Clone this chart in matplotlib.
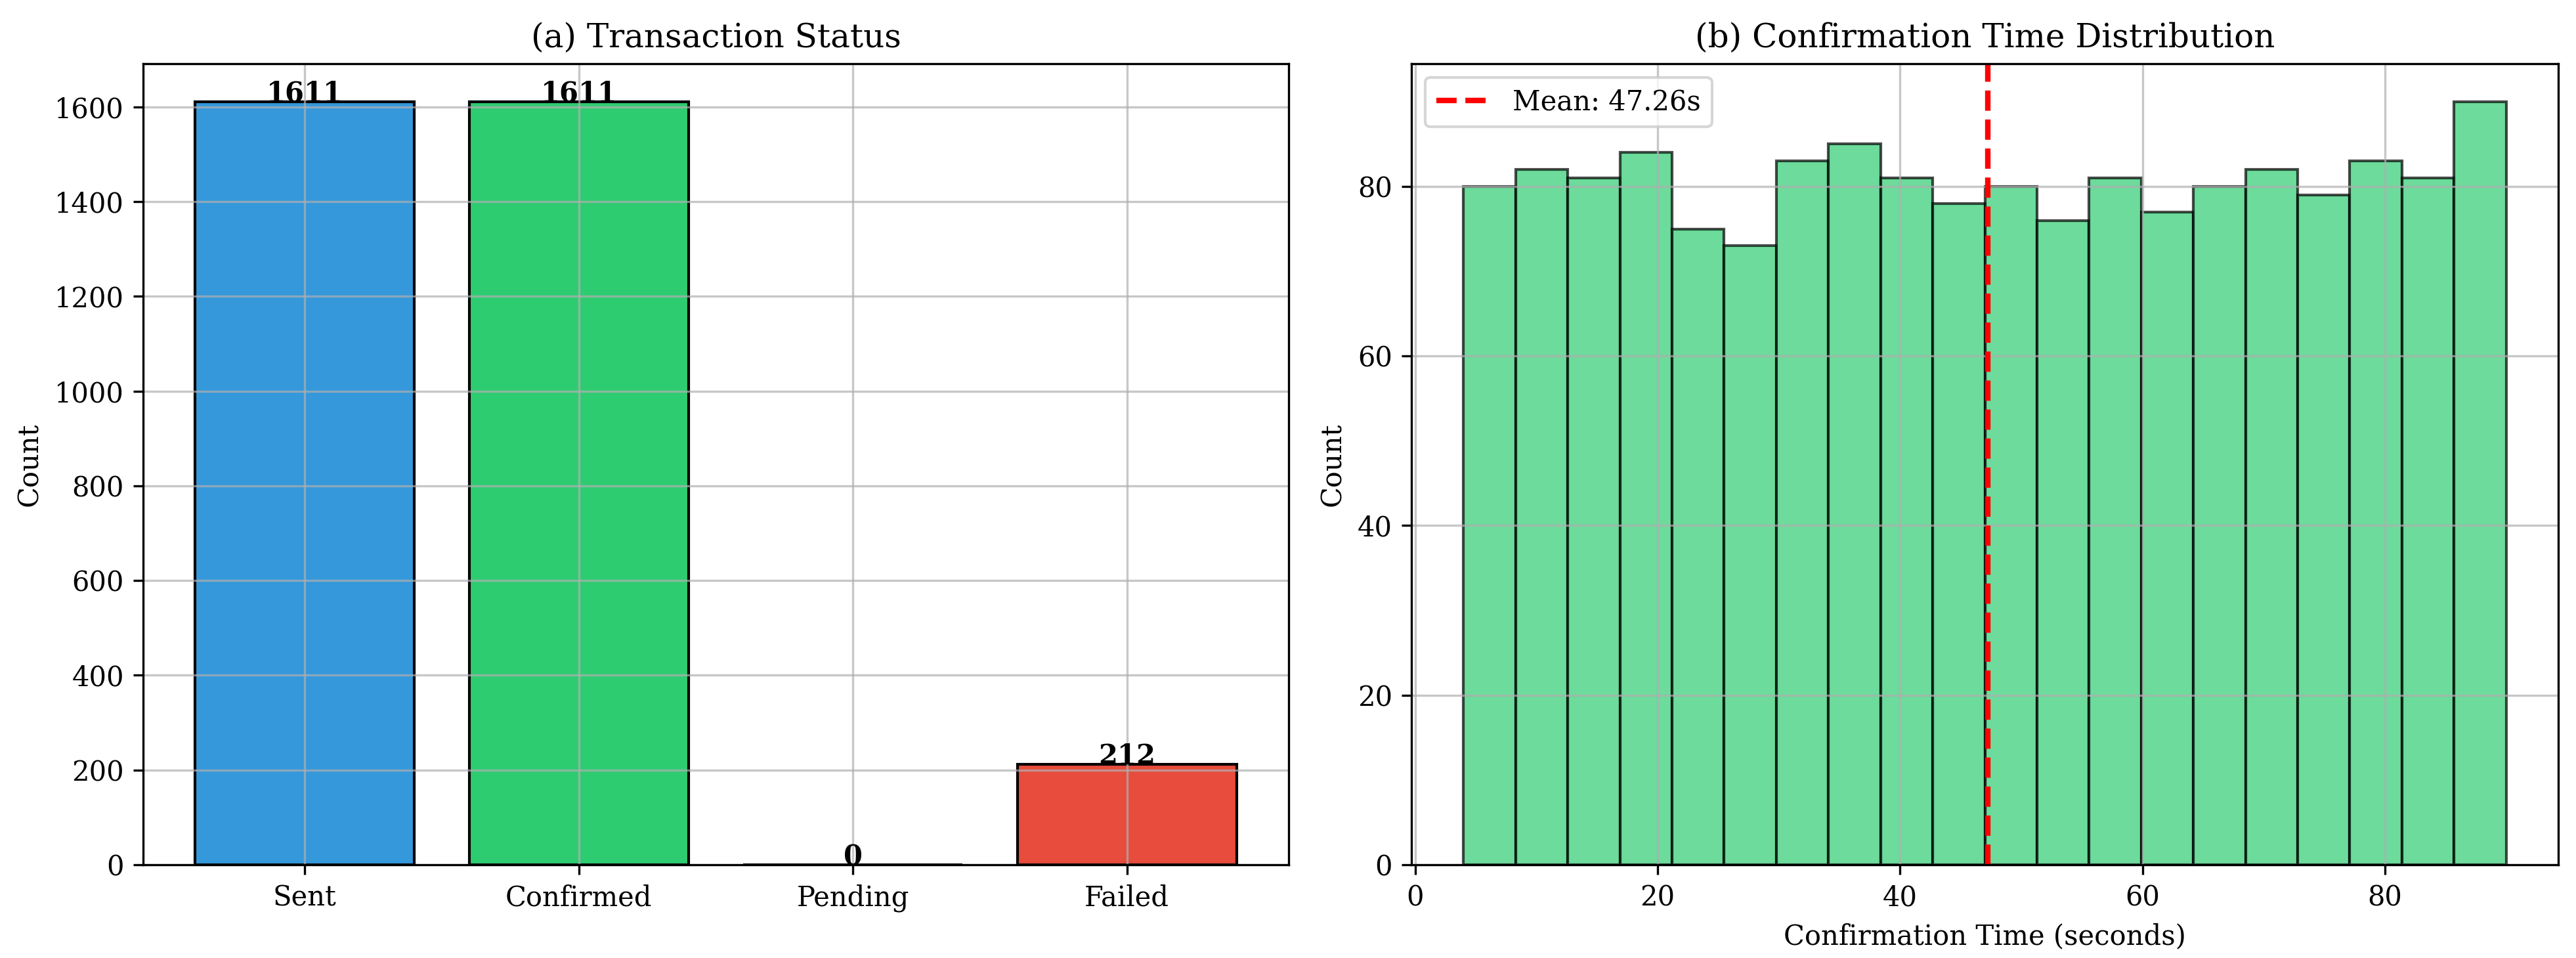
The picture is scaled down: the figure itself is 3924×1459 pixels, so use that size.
import matplotlib
matplotlib.use("Agg")
import matplotlib.pyplot as plt
import numpy as np

plt.rcParams['font.family'] = ['DejaVu Serif']
plt.rcParams['font.size'] = 10

# ---- data ----
status_labels = ['Sent', 'Confirmed', 'Pending', 'Failed']
status_counts = [1611, 1611, 0, 212]
status_colors = ['#3498db', '#2ecc71', '#f39c12', '#e74c3c']

hist_edges = [4.0, 8.3, 12.6, 16.9, 21.2, 25.5, 29.8, 34.1, 38.4, 42.7, 47.0,
              51.3, 55.6, 59.9, 64.2, 68.5, 72.8, 77.1, 81.4, 85.7, 90.0]
hist_counts = [80, 82, 81, 84, 75, 73, 83, 85, 81, 78,
               80, 76, 81, 77, 80, 82, 79, 83, 81, 90]
mean_time = 47.26

W, H = 3924, 1459
fig = plt.figure(figsize=(W / 300, H / 300), dpi=300)
bottom = 1 - 1317 / H
top = 1 - 96.7 / H
ax1 = fig.add_axes([218 / W, bottom, (1963 - 218) / W, top - bottom])
ax2 = fig.add_axes([2150 / W, bottom, (3897 - 2150) / W, top - bottom])

# (a) bar chart
x = np.arange(len(status_labels))
bars = ax1.bar(x, status_counts, width=0.8, color=status_colors,
               edgecolor='black', linewidth=1)
for b, v in zip(bars, status_counts):
    ax1.text(b.get_x() + b.get_width() / 2, b.get_height(), f'{v}',
             ha='center', va='baseline', fontweight='bold', fontsize=10)
ax1.set_xticks(x)
ax1.set_xticklabels(status_labels)
ax1.set_ylabel('Count')
ax1.set_title('(a) Transaction Status', fontsize=12)
ax1.grid(True, alpha=0.7)

# (b) histogram
centers = [(a + b) / 2 for a, b in zip(hist_edges[:-1], hist_edges[1:])]
ax2.hist(centers, bins=hist_edges, weights=hist_counts, color='#2ecc71',
         alpha=0.7, edgecolor='black', linewidth=1)
ax2.axvline(mean_time, color='red', linestyle='--', linewidth=2,
            label=f'Mean: {mean_time:.2f}s')
ax2.set_xlabel('Confirmation Time (seconds)')
ax2.set_ylabel('Count')
ax2.set_title('(b) Confirmation Time Distribution', fontsize=12)
ax2.legend(loc='upper left')
ax2.grid(True, alpha=0.7)

fig.savefig('out.png', dpi=300)
